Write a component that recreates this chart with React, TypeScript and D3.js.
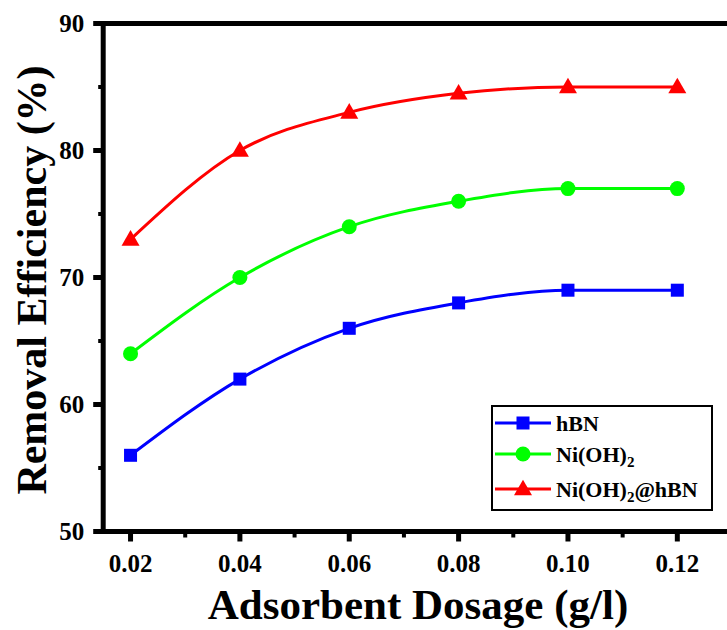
import React from "react";
import * as d3 from "d3";

const dosage = [0.02, 0.04, 0.06, 0.08, 0.1, 0.12];
const hBN = [56, 62, 66, 68, 69, 69];
const niOH2 = [64, 70, 74, 76, 77, 77];
const niOH2hBN = [73, 80, 83, 84.5, 85, 85];
const xTicks = [0.02, 0.04, 0.06, 0.08, 0.1, 0.12];
const xMinor = [0.03, 0.05, 0.07, 0.09, 0.11];
const yTicks = [50, 60, 70, 80, 90];
const yMinor = [55, 65, 75, 85];

const W = 727;
const H = 630;
const FONT = "'Liberation Serif', 'Times New Roman', serif";

export default function App() {
  const x = d3.scaleLinear().domain([0.015, 0.13]).range([103.2, 732]);
  const y = d3.scaleLinear().domain([50, 90]).range([531.5, 23.5]);
  const line = d3
    .line<number>()
    .x((_, i) => x(dosage[i]))
    .y((d) => y(d))
    .curve(d3.curveMonotoneX);

  const series = [
    { name: "hBN", data: hBN, color: "#0000ff", shape: "square" },
    { name: "Ni(OH)2", data: niOH2, color: "#00ff00", shape: "circle" },
    { name: "Ni(OH)2@hBN", data: niOH2hBN, color: "#ff0000", shape: "triangle" },
  ];

  const marker = (shape: string, cx: number, cy: number, color: string, key: any) => {
    if (shape === "square")
      return <rect key={key} x={cx - 6.5} y={cy - 6.5} width={13} height={13} fill={color} />;
    if (shape === "circle") return <circle key={key} cx={cx} cy={cy} r={7.5} fill={color} />;
    const s = 18;
    const h = s * 0.866;
    return (
      <path
        key={key}
        d={`M${cx},${cy - h * 0.6}L${cx + s / 2},${cy + h * 0.4}L${cx - s / 2},${cy + h * 0.4}Z`}
        fill={color}
      />
    );
  };

  const x0 = x.range()[0];
  const x1 = x.range()[1];
  const yb = y(50);
  const yt = y(90);

  const legendY = [423, 454, 489];

  return (
    <svg
      width={W}
      height={H}
      style={{ position: "absolute", left: 0, top: 0, background: "#fff" }}
      fontFamily={FONT}
      fontWeight="bold"
    >
      <rect width={W} height={H} fill="#fff" />
      {series.map((s) => (
        <g key={s.name}>
          <path d={line(s.data) || ""} fill="none" stroke={s.color} strokeWidth={3} />
          {s.data.map((v, i) => marker(s.shape, x(dosage[i]), y(v), s.color, i))}
        </g>
      ))}
      {/* frame */}
      <line x1={x0} x2={x0} y1={yt - 2.5} y2={yb + 2.5} stroke="#000" strokeWidth={5} />
      <line x1={x0 - 2.5} x2={x1} y1={yb} y2={yb} stroke="#000" strokeWidth={5} />
      <line x1={x0 - 2.5} x2={x1} y1={yt} y2={yt} stroke="#000" strokeWidth={5} />
      <line x1={x1} x2={x1} y1={yt} y2={yb} stroke="#000" strokeWidth={5} />
      {/* y ticks */}
      {yTicks.map((t) => (
        <g key={t}>
          <line x1={x0 - 10} x2={x0} y1={y(t)} y2={y(t)} stroke="#000" strokeWidth={5} />
          <text x={x0 - 19} y={y(t)} dy="0.35em" textAnchor="end" fontSize={25}>
            {t}
          </text>
        </g>
      ))}
      {yMinor.map((t) => (
        <line key={t} x1={x0 - 5} x2={x0} y1={y(t)} y2={y(t)} stroke="#000" strokeWidth={4} />
      ))}
      {/* x ticks */}
      {xTicks.map((t) => (
        <g key={t}>
          <line x1={x(t)} x2={x(t)} y1={yb} y2={yb + 10} stroke="#000" strokeWidth={5} />
          <text x={x(t)} y={yb + 40} textAnchor="middle" fontSize={25}>
            {t.toFixed(2)}
          </text>
        </g>
      ))}
      {xMinor.map((t) => (
        <line key={t} x1={x(t)} x2={x(t)} y1={yb} y2={yb + 6} stroke="#000" strokeWidth={4} />
      ))}
      {/* axis titles */}
      <text x={418} y={619} textAnchor="middle" fontSize={43}>
        Adsorbent Dosage (g/l)
      </text>
      <text
        transform={`translate(46, ${280}) rotate(-90)`}
        textAnchor="middle"
        fontSize={42}
      >
        Removal Efficiency (%)
      </text>
      {/* legend */}
      <rect x={492} y={406} width={220} height={104} fill="#fff" stroke="#000" strokeWidth={2} />
      {series.map((s, i) => (
        <g key={s.name}>
          <line x1={495} x2={551} y1={legendY[i]} y2={legendY[i]} stroke={s.color} strokeWidth={3} />
          {marker(s.shape, 523, legendY[i], s.color, "m")}
          <text x={556} y={legendY[i]} dy="0.35em" fontSize={22}>
            {s.name === "hBN" ? (
              "hBN"
            ) : s.name === "Ni(OH)2" ? (
              <>
                Ni(OH)<tspan fontSize={15} dy="5">2</tspan>
              </>
            ) : (
              <>
                Ni(OH)<tspan fontSize={15} dy="5">2</tspan>
                <tspan dy="-5">@hBN</tspan>
              </>
            )}
          </text>
        </g>
      ))}
    </svg>
  );
}
